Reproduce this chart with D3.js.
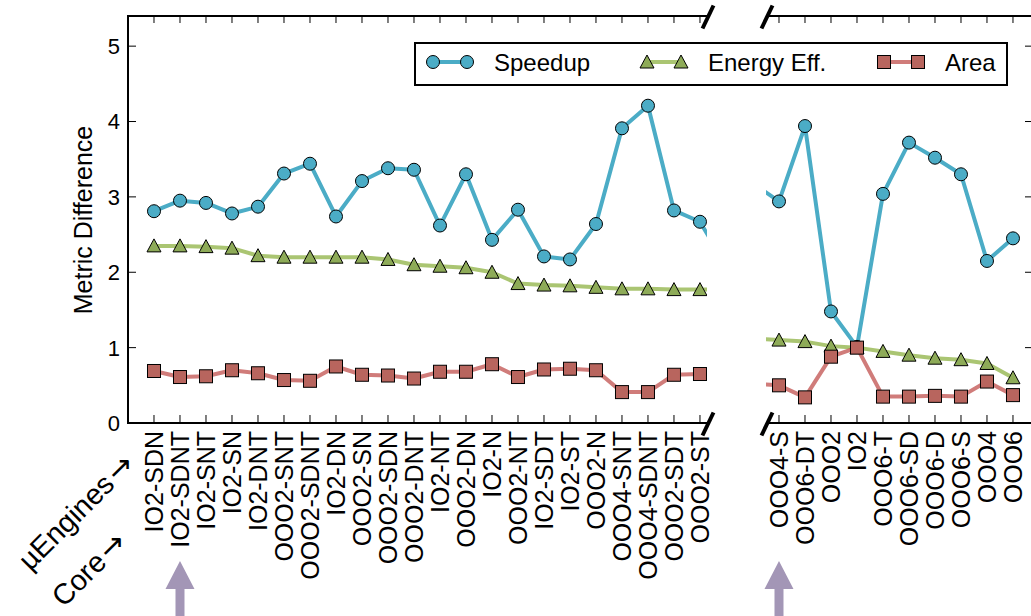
<!DOCTYPE html>
<html>
<head>
<meta charset="utf-8">
<script src="https://cdn.jsdelivr.net/npm/d3@7"></script>
<style>
  body { margin: 0; background: #fff; }
  text { font-family: "Liberation Sans", Arial, sans-serif; }
</style>
</head>
<body>
<script>
// categories in each half of the broken axis
const leftCats = ["IO2-SDN", "IO2-SDNT", "IO2-SNT", "IO2-SN", "IO2-DNT", "OOO2-SNT", "OOO2-SDNT",
  "IO2-DN", "OOO2-SN", "OOO2-SDN", "OOO2-DNT", "IO2-NT", "OOO2-DN", "IO2-N", "OOO2-NT",
  "IO2-SDT", "IO2-ST", "OOO2-N", "OOO4-SNT", "OOO4-SDNT", "OOO2-SDT", "OOO2-ST"];
const rightCats = ["OOO4-S", "OOO6-DT", "OOO2", "IO2", "OOO6-T", "OOO6-SD", "OOO6-D", "OOO6-S", "OOO4", "OOO6"];

const speedupLeft = [2.81, 2.95, 2.92, 2.78, 2.87, 3.31, 3.44, 2.74, 3.21, 3.38, 3.36,
  2.62, 3.30, 2.43, 2.83, 2.21, 2.17, 2.64, 3.91, 4.21, 2.82, 2.67];
const energyLeft = [2.35, 2.35, 2.34, 2.32, 2.22, 2.20, 2.20, 2.20, 2.20, 2.17, 2.10,
  2.08, 2.06, 2.00, 1.85, 1.83, 1.82, 1.80, 1.78, 1.78, 1.77, 1.77];
const areaLeft = [0.69, 0.61, 0.62, 0.70, 0.66, 0.57, 0.56, 0.75, 0.64, 0.63, 0.59,
  0.68, 0.68, 0.78, 0.61, 0.71, 0.72, 0.70, 0.41, 0.41, 0.64, 0.65];

const speedupRight = [2.94, 3.94, 1.48, 1.01, 3.04, 3.72, 3.52, 3.30, 2.15, 2.45];
const energyRight = [1.10, 1.08, 1.02, 1.00, 0.95, 0.90, 0.86, 0.84, 0.79, 0.60];
const areaRight = [0.50, 0.34, 0.88, 1.00, 0.35, 0.35, 0.36, 0.35, 0.55, 0.37];

// values just past the break (hidden points, only the clipped line stub shows)
const afterLeft = [2.09, 1.77, 0.65];   // speedup, energy, area
const beforeRight = [3.18, 1.12, 0.52];

const yTicks = [0, 1, 2, 3, 4, 5];
const legendNames = ["Speedup", "Energy Eff.", "Area"];
const annotations = ["\u00b5Engines", "Core"];

const W = 1031, H = 616;
const yTop = 16, yBot = 423;

const svg = d3.select("body").append("svg").attr("width", W).attr("height", H);

const y = d3.scaleLinear().domain([0, 5.4]).range([yBot, yTop]);
const xL = d3.scaleLinear().domain([-1, 21.27]).range([128, 707]);
const xR = d3.scaleLinear().domain([-0.5, 9.77]).range([766, 1033]);

const series = [
  { name: "Speedup", shape: "circle", line: "#4bacc6", fill: "#4bacc6", op: 1 },
  { name: "Energy Eff.", shape: "tri", line: "#9bbb59", fill: "#8eab58", op: 0.85 },
  { name: "Area", shape: "square", line: "#c0504d", fill: "#b8655e", op: 0.75 }
];
const leftVals = [speedupLeft, energyLeft, areaLeft];
const rightVals = [speedupRight, energyRight, areaRight];

const marker = function(g, s, cx, cy) {
  if (s.shape === "circle") {
    g.append("circle").attr("cx", cx).attr("cy", cy).attr("r", 6.5)
      .attr("fill", s.fill).attr("stroke", "#000").attr("stroke-width", 1);
  } else if (s.shape === "square") {
    g.append("rect").attr("x", cx - 6.5).attr("y", cy - 6.5).attr("width", 13).attr("height", 13)
      .attr("fill", s.fill).attr("stroke", "#000").attr("stroke-width", 1);
  } else {
    g.append("path").attr("d", `M${cx},${cy - 7}L${cx + 7},${cy + 6}L${cx - 7},${cy + 6}Z`)
      .attr("fill", s.fill).attr("stroke", "#000").attr("stroke-width", 1);
  }
};

const defs = svg.append("defs");
defs.append("clipPath").attr("id", "clipL").append("rect")
  .attr("x", 128).attr("y", yTop).attr("width", 707 - 128).attr("height", yBot - yTop);
defs.append("clipPath").attr("id", "clipR").append("rect")
  .attr("x", 766).attr("y", yTop).attr("width", 1033 - 766).attr("height", yBot - yTop);

const line = d3.line().x(d => d[0]).y(d => d[1]);

// left panel
const gL = svg.append("g").attr("clip-path", "url(#clipL)");
series.forEach((s, k) => {
  const pts = leftVals[k].map((v, i) => [xL(i), y(v)]);
  pts.push([xL(leftCats.length), y(afterLeft[k])]);
  gL.append("path").attr("d", line(pts)).attr("fill", "none")
    .attr("stroke", s.line).attr("stroke-opacity", s.op).attr("stroke-width", 4)
    .attr("stroke-linejoin", "round");
  leftVals[k].forEach((v, i) => marker(gL, s, xL(i), y(v)));
});

// right panel
const gR = svg.append("g").attr("clip-path", "url(#clipR)");
series.forEach((s, k) => {
  const pts = [[xR(-1), y(beforeRight[k])]].concat(rightVals[k].map((v, i) => [xR(i), y(v)]));
  gR.append("path").attr("d", line(pts)).attr("fill", "none")
    .attr("stroke", s.line).attr("stroke-opacity", s.op).attr("stroke-width", 4)
    .attr("stroke-linejoin", "round");
  rightVals[k].forEach((v, i) => marker(gR, s, xR(i), y(v)));
});

// spines
const ax = svg.append("g").attr("stroke", "#000").attr("fill", "none");
ax.append("path").attr("d", `M707,${yTop}H128V${yBot}H707`).attr("stroke-width", 2);
ax.append("path").attr("d", `M766,${yTop}H1033V${yBot}H766`).attr("stroke-width", 2);

// ticks (inward)
leftCats.forEach((c, i) => {
  ax.append("line").attr("x1", xL(i)).attr("x2", xL(i)).attr("y1", yTop).attr("y2", yTop + 7);
  ax.append("line").attr("x1", xL(i)).attr("x2", xL(i)).attr("y1", yBot).attr("y2", yBot - 8);
});
rightCats.forEach((c, i) => {
  ax.append("line").attr("x1", xR(i)).attr("x2", xR(i)).attr("y1", yTop).attr("y2", yTop + 7);
  ax.append("line").attr("x1", xR(i)).attr("x2", xR(i)).attr("y1", yBot).attr("y2", yBot - 8);
});
yTicks.forEach(t => {
  ax.append("line").attr("x1", 128).attr("x2", 136).attr("y1", y(t)).attr("y2", y(t));
  ax.append("line").attr("x1", 1033).attr("x2", 1025).attr("y1", y(t)).attr("y2", y(t));
});

// break marks
[[707, yTop], [707, yBot], [766, yTop], [766, yBot]].forEach(p => {
  const cx = p[0] + 1, cy = p[1] + 1;
  ax.append("line").attr("x1", cx - 5.5).attr("y1", cy + 11.5).attr("x2", cx + 5.5).attr("y2", cy - 11.5)
    .attr("stroke-width", 4);
});

// y tick labels + title
svg.append("g").selectAll("text").data(yTicks).enter().append("text")
  .attr("x", 120).attr("y", d => y(d)).attr("dy", "0.36em")
  .attr("text-anchor", "end").attr("font-size", "22px").text(d => d);

svg.append("text").attr("transform", "translate(83,220) rotate(-90)")
  .attr("text-anchor", "middle").attr("dy", "0.36em").attr("font-size", "25px")
  .text("Metric Difference");

// category labels
const xlab = function(cats, sc) {
  svg.append("g").selectAll("text").data(cats).enter().append("text")
    .attr("transform", (d, i) => `translate(${sc(i)},431) rotate(-90)`)
    .attr("text-anchor", "end").attr("dy", "0.36em").attr("font-size", "25px")
    .text(d => d);
};
xlab(leftCats, xL);
xlab(rightCats, xR);

// legend
const lg = svg.append("g");
lg.append("rect").attr("x", 415).attr("y", 43).attr("width", 592).attr("height", 42)
  .attr("fill", "#fff").attr("stroke", "#000").attr("stroke-width", 2);
const lx = [433, 647, 884];
series.forEach((s, k) => {
  lg.append("line").attr("x1", lx[k]).attr("x2", lx[k] + 34).attr("y1", 62).attr("y2", 62)
    .attr("stroke", s.line).attr("stroke-opacity", s.op).attr("stroke-width", 4);
  marker(lg, s, lx[k], 62);
  marker(lg, s, lx[k] + 34, 62);
  lg.append("text").attr("x", lx[k] + 61).attr("y", 62).attr("dy", "0.36em")
    .attr("font-size", "24px").text(legendNames[k]);
});

// purple arrows under the baseline cores
const arrow = function(cx) {
  svg.append("path")
    .attr("d", `M${cx},561L${cx + 14.5},589L${cx + 4.5},589L${cx + 4.5},${H}L${cx - 4.5},${H}L${cx - 4.5},589L${cx - 14.5},589Z`)
    .attr("fill", "#a396b6");
};
arrow(xL(1));
arrow(xR(0));

// row annotations
const note = function(txt, px, py) {
  const t = svg.append("text").attr("transform", `translate(${px},${py}) rotate(-45)`)
    .attr("text-anchor", "end").attr("font-family", "Lato, sans-serif").attr("font-size", "29px");
  t.append("tspan").text(txt);
  t.append("tspan").attr("font-family", "DejaVu Sans, sans-serif").attr("font-size", "30px")
    .attr("dx", 3).text("\u2192");
};
note(annotations[0], 136, 466);
note(annotations[1], 128, 544);
</script>
</body>
</html>
